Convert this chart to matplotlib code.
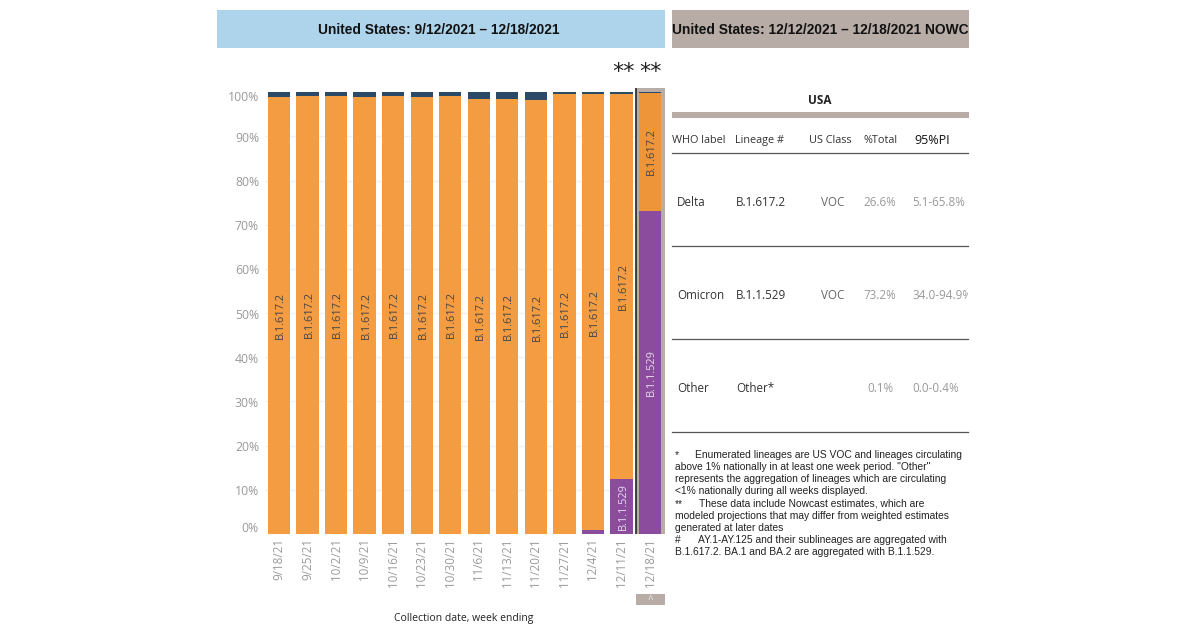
import matplotlib
matplotlib.use("Agg")
import matplotlib.pyplot as plt
import numpy as np
from matplotlib.patches import Rectangle

weeks = ["9/18/21","9/25/21","10/2/21","10/9/21","10/16/21","10/23/21","10/30/21",
         "11/6/21","11/13/21","11/20/21","11/27/21","12/4/21","12/11/21","12/18/21"]
omicron = [0,0,0,0,0,0,0,0,0,0,0,0.8,12.5,73.2]
other = [1.0,0.75,0.75,1.0,0.75,1.0,0.75,1.45,1.45,1.8,0.3,0.3,0.45,0.2]
delta = [100-o-t for o,t in zip(omicron,other)]
yticks = [10,20,30,40,50,60,70,80,90]
table_head = ["WHO label","Lineage #","US Class","%Total","95%PI"]
table_rows = [["Delta","B.1.617.2","VOC","26.6%","5.1-65.8%"],
              ["Omicron","B.1.1.529","VOC","73.2%","34.0-94.9%"],
              ["Other","Other*","","0.1%","0.0-0.4%"]]
notes = [(695,455,'Enumerated lineages are US VOC and lineages circulating'),
         (675,467,'above 1% nationally in at least one week period. "Other"'),
         (675,479,'represents the aggregation of lineages which are circulating'),
         (675,491,'<1% nationally during all weeks displayed.'),
         (699,504,'These data include Nowcast estimates, which are'),
         (675,516,'modeled projections that may differ from weighted estimates'),
         (675,528,'generated at later dates'),
         (698,540,'AY.1-AY.125 and their sublineages are aggregated with'),
         (675,552,'B.1.617.2. BA.1 and BA.2 are aggregated with B.1.1.529.')]
note_marks = [(675,455,'*'),(675,504,'**'),(675,540,'#')]

ORANGE="#f39c42"; PURPLE="#8b4c9e"; NAVY="#2b4a68"; GREY="#9a9a9a"; TAUPE="#b7aca6"
W,H=1200,630
fig=plt.figure(figsize=(12,6.3),dpi=100,facecolor="white")
bg=fig.add_axes([0,0,1,1]); bg.set_xlim(0,W); bg.set_ylim(H,0); bg.axis("off")

# chart axes, placed in pixels
L,R,T,B=264.5,665,48,534
ax=fig.add_axes([L/W,1-B/H,(R-L)/W,(B-T)/H])
y_px=441.7/100
ax.set_ylim(0,(B-T)/y_px)
x=np.arange(len(weeks))
step=28.54
ax.set_xlim(-(279-L)/step,(R-279)/step)
for s in ax.spines.values(): s.set_visible(False)
ax.patch.set_alpha(0)
ax.set_axisbelow(True)
ax.set_yticks(yticks); ax.set_yticklabels([])
ax.tick_params(axis="y",length=0)
ax.yaxis.grid(True,color="#f1f1f1",lw=1)
ax.set_xticks(x)
ax.tick_params(axis="x",length=0,pad=3)
ax.set_xticklabels(weeks,rotation=90,color=GREY,fontsize=8.4,family="Open Sans",va="top",ha="center")

# selection highlight behind the last bar
px_x=lambda p:(p-279)/step
ax.add_patch(Rectangle((px_x(636),0),(664.5-636)/step,(534-88)/y_px,color=TAUPE,lw=0,zorder=2))
ax.plot([px_x(636.3)]*2,[0,(534-88)/y_px],color="#333333",lw=1.3,zorder=6,solid_capstyle="butt")

om=np.array(omicron); de=np.array(delta); ot=np.array(other)
bw=22.3/step
last_col=[ORANGE]*13+["#ee9539"]
ax.bar(x,om,bw,color=PURPLE,zorder=3)
ax.bar(x,de,bw,bottom=om,color=last_col,zorder=3)
ax.bar(x,ot,bw,bottom=om+de,color=NAVY,zorder=3)
for i in x:
    ax.text(i+0.05,om[i]+de[i]/2,"B.1.617.2",rotation=90,ha="center",va="center",fontsize=7.9,
            color="#444444",family="Open Sans",zorder=5)
    if om[i]>5:
        ax.text(i+0.05,om[i]/2,"B.1.1.529",rotation=90,ha="center",va="center",fontsize=7.9,
                color="#e6dcea",family="Open Sans",zorder=5)

# y labels (Tableau pulls the end labels inwards)
for v in yticks:
    bg.text(259,534-v*y_px+2,f"{v}%",ha="right",va="center",color=GREY,fontsize=8.8,family="Open Sans")
bg.text(259,97.5,"100%",ha="right",va="center",color=GREY,fontsize=8.8,family="Open Sans")
bg.text(259,528,"0%",ha="right",va="center",color=GREY,fontsize=8.8,family="Open Sans")

# headers
bg.add_patch(Rectangle((217,10),448,38,color="#aed4ec",lw=0))
hdr2=Rectangle((672,10),297,38,color=TAUPE,lw=0); bg.add_patch(hdr2)
bg.text(439,29.5,"United States: 9/12/2021 – 12/18/2021",ha="center",va="center",fontsize=9.86,
        fontweight="bold",family="Liberation Sans",color="#111111")
t=bg.text(672.5,29.5,"United States: 12/12/2021 – 12/18/2021 NOWCAST",ha="left",va="center",fontsize=9.86,
        fontweight="bold",family="Liberation Sans",color="#111111",clip_on=True)
t.set_clip_path(hdr2)

# stars
for cx in (623.7,651):
    bg.text(cx,72,"**",ha="center",va="center",fontsize=16,family="DejaVu Sans",color="#222222")

bg.add_patch(Rectangle((636,594),29,11,color=TAUPE,lw=0))
bg.text(650.5,600,"^",ha="center",va="center",fontsize=7,color="#eeeeee",family="Open Sans")
bg.set_zorder(0); ax.set_zorder(1)

bg.text(464,618.5,"Collection date, week ending",ha="center",va="center",fontsize=7.5,color="#222222",family="Open Sans")

# table
bg.text(820,100.5,"USA",ha="center",va="center",fontsize=8.5,fontweight="bold",color="#222222",family="Open Sans")
bg.add_patch(Rectangle((672,112),297,6,color=TAUPE,lw=0))
hx=[672,735,809,863,914]
for hxi,h,c in zip(hx,table_head,["#333333"]*4+["#111111"]):
    bg.text(hxi,140.5,h,ha="left",va="center",fontsize=7.8 if h!="95%PI" else 9,color=c,family="Open Sans")
for ly in (153,246,339,432):
    bg.plot([672,968],[ly,ly],color="#555555",lw=0.9)
clip=Rectangle((672,0),296,630,transform=bg.transData)
for ry,row in zip((202.5,295.5,388.5),table_rows):
    bg.text(677,ry,row[0],ha="left",va="center",fontsize=8.4,color="#333333",family="Open Sans")
    bg.text(736,ry,row[1],ha="left",va="center",fontsize=8.4,color="#333333",family="Open Sans")
    bg.text(833,ry,row[2],ha="center",va="center",fontsize=8.4,color="#666666",family="Open Sans")
    bg.text(880,ry,row[3],ha="center",va="center",fontsize=8.4,color=GREY,family="Open Sans")
    t=bg.text(912,ry,row[4],ha="left",va="center",fontsize=8.4,color=GREY,family="Open Sans",clip_on=True)
    t.set_clip_path(clip)

for nx,ny,s in notes+note_marks:
    bg.text(nx,ny,s,ha="left",va="center",fontsize=7.43,color="#222222",family="Liberation Sans")

fig.savefig("out.png",dpi=100)
